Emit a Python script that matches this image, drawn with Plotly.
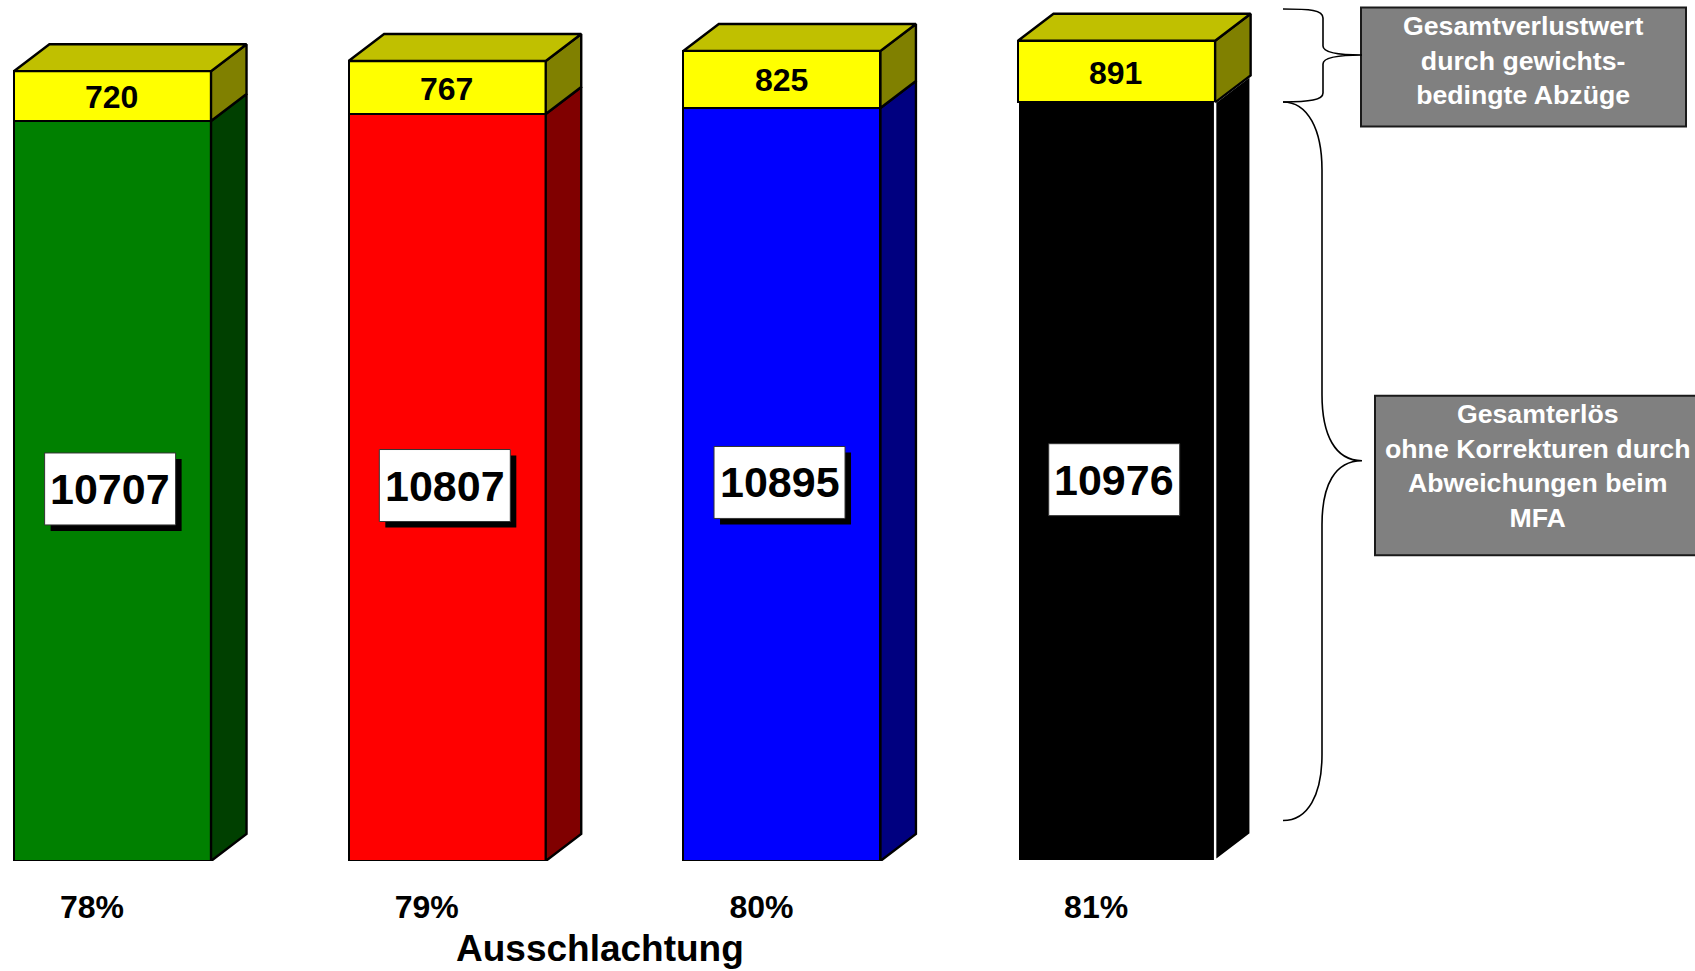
import plotly.graph_objects as go

# ---- data ----
ausschlachtung = ["78%", "79%", "80%", "81%"]
gesamterloes = [10707, 10807, 10895, 10976]
verlustwert = [720, 767, 825, 891]
front_colors = ["#008000", "#FF0000", "#0000FF", "#000000"]
side_colors = ["#004000", "#800000", "#000080", "#000000"]
edge_colors = ["#000000", "#000000", "#000000", "#FFFFFF"]
axis_title = "Ausschlachtung"
box_upper = ["Gesamtverlustwert", "durch gewichts-", "bedingte Abzüge"]
box_lower = ["Gesamterlös", "ohne Korrekturen durch", "Abweichungen beim", "MFA"]

# ---- layout constants ----
W, H = 1695, 971
BASE = 861.5            # pixel row of value 0
PX_PER_X = 334.7
PX_PER_Y = 0.06916
X0 = -0.336
FONT = "Liberation Sans"
BAR_W = 0.589
DX = 35.5 / PX_PER_X
DY = 27 / PX_PER_Y
EDGE = 2.4
positions = list(range(len(gesamterloes)))


def fx(px):
    return px / W


def fy(py):
    return (BASE - py) / BASE


def brace(points):
    out = []
    for cmd, coords in points:
        out.append(cmd + " ".join(f"{fx(x):.5f},{fy(y):.5f}" for x, y in coords))
    return " ".join(out)


fig = go.Figure()
fig.add_bar(
    x=positions, y=gesamterloes, width=BAR_W,
    marker=dict(color=front_colors, line=dict(color=edge_colors, width=EDGE)),
    cliponaxis=False, hoverinfo="skip",
)
fig.add_bar(
    x=positions, y=verlustwert, width=BAR_W,
    marker=dict(color="#FFFF00", line=dict(color="#000000", width=EDGE)),
    cliponaxis=False, hoverinfo="skip",
)


def face(xs, ys, fill, edge):
    fig.add_scatter(
        x=xs, y=ys, mode="lines", fill="toself", fillcolor=fill,
        line=dict(color=edge, width=EDGE), cliponaxis=False, hoverinfo="skip",
    )


for p, low, top, side, edge in zip(positions, gesamterloes, verlustwert, side_colors, edge_colors):
    r = p + BAR_W / 2
    l = p - BAR_W / 2
    total = low + top
    face([r, r + DX, r + DX, r, r], [0, DY, low + DY, low, 0], side, edge)
    face([r, r + DX, r + DX, r, r], [low, low + DY, total + DY, total, low], "#808000", "#000000")
    face([l, l + DX, r + DX, r, l], [total, total + DY, total + DY, total, total], "#C0C000", "#000000")

shapes = []
annotations = []
BOX_W = 131 / PX_PER_X
BOX_H = 72 / PX_PER_Y
SH_X = 6 / PX_PER_X
SH_Y = 6 / PX_PER_Y
for p, v, top in zip(positions, gesamterloes, verlustwert):
    cx = p - 0.007
    cy = v / 2 + 29
    shapes.append(dict(type="rect", layer="above", xref="x", yref="y",
                       x0=cx - BOX_W / 2 + SH_X, x1=cx + BOX_W / 2 + SH_X,
                       y0=cy - BOX_H / 2 - SH_Y, y1=cy + BOX_H / 2 - SH_Y,
                       fillcolor="#000000", line=dict(width=0)))
    shapes.append(dict(type="rect", layer="above", xref="x", yref="y",
                       x0=cx - BOX_W / 2, x1=cx + BOX_W / 2,
                       y0=cy - BOX_H / 2, y1=cy + BOX_H / 2,
                       fillcolor="#FFFFFF", line=dict(color="#333333", width=1)))
    annotations.append(dict(x=cx, y=cy, xref="x", yref="y", text=str(v), showarrow=False,
                            xanchor="center", yanchor="middle",
                            font=dict(family=FONT, size=43, color="#000000", weight=700)))
    annotations.append(dict(x=p - 0.002, y=v + top / 2, xref="x", yref="y", text=str(top), showarrow=False,
                            xanchor="center", yanchor="middle", yshift=-1,
                            font=dict(family=FONT, size=32, color="#000000", weight=700)))

# grey note boxes
for x0, y0, x1, y1 in [(1361, 7.5, 1686, 126.5), (1375, 396, 1705, 555.5)]:
    shapes.append(dict(type="rect", layer="above", xref="paper", yref="paper",
                       x0=fx(x0), x1=fx(x1), y0=fy(y1), y1=fy(y0),
                       fillcolor="#808080", line=dict(color="#1a1a1a", width=2)))

# braces
upper = [("M", [(1283, 9)]), ("C", [(1310, 9), (1323, 10), (1323, 18)]), ("L", [(1323, 46)]),
         ("C", [(1323, 52), (1335, 55), (1362, 55)]), ("C", [(1335, 55), (1323, 58), (1323, 64)]),
         ("L", [(1323, 93)]), ("C", [(1323, 100), (1310, 102), (1283, 102)])]
lower = [("M", [(1283, 102)]), ("C", [(1308, 102), (1322, 130), (1322, 170)]), ("L", [(1322, 395)]),
         ("C", [(1322, 435), (1335, 461), (1362, 461)]), ("C", [(1335, 461), (1322, 485), (1322, 525)]),
         ("L", [(1322, 755)]), ("C", [(1322, 795), (1308, 821), (1283, 821)])]
for pts in (upper, lower):
    shapes.append(dict(type="path", layer="above", xref="paper", yref="paper",
                       path=brace(pts), line=dict(color="#000000", width=1.6)))

annotations.append(dict(x=fx(1522.5), y=fy(61), xref="paper", yref="paper", showarrow=False,
                        xanchor="center", yanchor="middle",
                        text="<br>".join(box_upper), align="center",
                        font=dict(family=FONT, size=26.7, color="#FFFFFF", weight=700)))
annotations.append(dict(x=fx(1537), y=fy(466.5), xref="paper", yref="paper", showarrow=False,
                        xanchor="center", yanchor="middle",
                        text="<br>".join(box_lower), align="center",
                        font=dict(family=FONT, size=26.7, color="#FFFFFF", weight=700)))
annotations.append(dict(x=fx(599.5), y=fy(949), xref="paper", yref="paper", showarrow=False,
                        xanchor="center", yanchor="middle",
                        text=axis_title,
                        font=dict(family=FONT, size=37, color="#000000", weight=700)))

fig.update_layout(
    width=W, height=H, autosize=False, barmode="stack", showlegend=False,
    paper_bgcolor="#FFFFFF", plot_bgcolor="#FFFFFF", bargap=0,
    margin=dict(l=0, r=0, t=0, b=H - BASE, pad=0),
    xaxis=dict(range=[X0, X0 + W / PX_PER_X], showgrid=False, zeroline=False, showline=False,
               tickmode="array", tickvals=[p - 0.061 for p in positions], ticktext=ausschlachtung,
               ticks="outside", ticklen=17.4, tickcolor="rgba(0,0,0,0)",
               tickfont=dict(family=FONT, size=32, color="#000000", weight=700)),
    yaxis=dict(range=[0, BASE / PX_PER_Y], visible=False),
    shapes=shapes, annotations=annotations,
)
fig.write_html("out.html", config={"displayModeBar": False},
               post_script="document.body.style.margin='0';document.body.style.overflow='hidden';")
